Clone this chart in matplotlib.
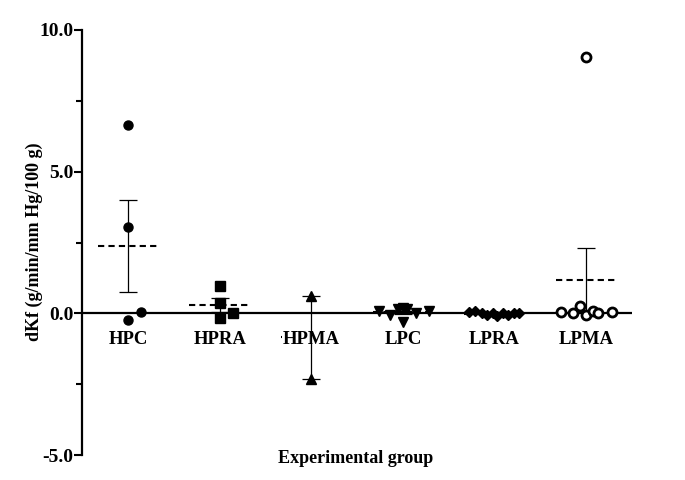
import numpy as np
import matplotlib.pyplot as plt

# grupos
grupos = ['HPC', 'HPRA', 'HPMA', 'LPC', 'LPRA', 'LPMA']
marcadores = ['o', 's', '^', 'v', 'D', 'o']

# dKf por animal (g/min/mm Hg/100 g)
hpc = [6.65, 3.05, -0.25, 0.05]
hpra = [0.95, 0.35, -0.15, 0.0]
hpma = [0.6, -2.3]
lpc = [0.1, -0.05, 0.15, 0.2, 0.15, -0.3, 0.0, 0.1]
lpra = [0.05, 0.1, 0.0, -0.05, 0.0, -0.1, 0.0, -0.05, 0.0, 0.0]
lpma = [0.05, 0.0, 0.25, 9.05, -0.05, 0.1, 0.0, 0.05]

# deslocamento horizontal dos pontos (dispersao)
desl_hpc = [0, 0, 0, 0.14]
desl_hpra = [0, 0, 0, 0.15]
desl_hpma = [0, 0]
desl_lpc = [-0.26, -0.14, -0.05, 0.0, 0.05, 0.0, 0.14, 0.28]
desl_lpra = [-0.28, -0.21, -0.14, -0.08, -0.02, 0.03, 0.09, 0.15, 0.21, 0.27]
desl_lpma = [-0.28, -0.14, -0.065, 0.0, 0.0, 0.075, 0.13, 0.28]

dados = [hpc, hpra, hpma, lpc, lpra, lpma]
deslocs = [desl_hpc, desl_hpra, desl_hpma, desl_lpc, desl_lpra, desl_lpma]

plt.rcParams['font.family'] = ['Liberation Serif', 'DejaVu Serif']
plt.rcParams['font.weight'] = 'bold'

fig = plt.figure(figsize=(6.85, 4.8), dpi=100)
ax = fig.add_axes([0.12, 0.052, 0.8026, 0.8855])

for i, (vals, dx, m) in enumerate(zip(dados, deslocs, marcadores)):
    vals = np.array(vals)
    x = i + np.array(dx)
    media = vals.mean()
    sem = vals.std(ddof=1) / np.sqrt(len(vals))
    if i == 5:
        ax.plot(x, vals, 'o', ms=6.5, mfc='white', mec='black', mew=2, zorder=5)
    else:
        ax.plot(x, vals, m, ms=6.5 if m != 'D' else 5.5, color='black', zorder=5)
    ax.plot([i - 0.33, i + 0.33], [media, media], '--', color='black', lw=1.5,
            dashes=(3, 2), zorder=1)
    ax.errorbar(i, media, yerr=sem, fmt='none', ecolor='black', elinewidth=0.9,
                capsize=6.5, capthick=0.9, zorder=4)

ax.axhline(0, color='black', lw=1.6, zorder=3)

ax.set_xlim(-0.5, 5.5)
ax.set_ylim(-5, 10)
ax.set_yticks([-5, 0, 5, 10])
ax.set_yticklabels(['-5.0', '0.0', '5.0', '10.0'])
ax.set_yticks([-2.5, 2.5, 7.5], minor=True)
ax.tick_params(axis='y', which='major', length=6, width=1.5, labelsize=14, pad=0.5)
ax.tick_params(axis='y', which='minor', length=4, width=1.5)

ax.spines['left'].set_linewidth(1.6)
for s in ['top', 'right', 'bottom']:
    ax.spines[s].set_visible(False)
ax.set_xticks([])

for i, g in enumerate(grupos):
    ax.text(i, -0.92, g, ha='center', va='center', fontsize=13.5, fontweight='bold',
            bbox=dict(facecolor='white', edgecolor='none', pad=0.5), zorder=2)

ax.set_ylabel('dKf (g/min/mm Hg/100 g)', fontsize=13, fontweight='bold')
ax.yaxis.set_label_coords(-0.071, 0.502)
ax.text(2.48, -5.12, 'Experimental group', ha='center', va='center', fontsize=13,
        fontweight='bold')

fig.savefig('out.png', dpi=100)
